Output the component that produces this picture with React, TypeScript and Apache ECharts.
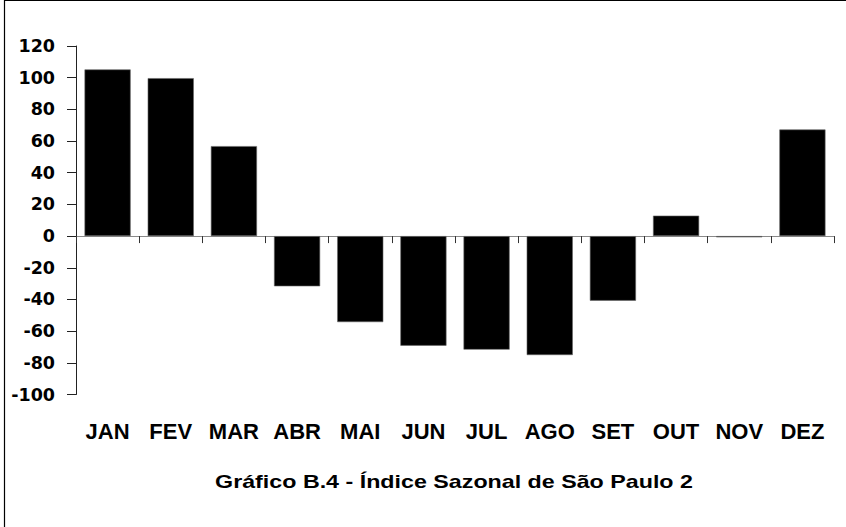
import React, { useEffect, useRef } from "react";
import * as echarts from "echarts";

const categories = ["JAN", "FEV", "MAR", "ABR", "MAI", "JUN", "JUL", "AGO", "SET", "OUT", "NOV", "DEZ"];
const values = [105.2, 99.7, 56.8, -31.7, -54.3, -69.2, -71.7, -75.1, -40.8, 12.9, -0.8, 67.3];
const yMin = -100;
const yMax = 120;
const yStep = 20;
const titleText = "Gráfico B.4 - Índice Sazonal de São Paulo 2";

export default function App() {
  const ref = useRef<HTMLDivElement>(null);
  useEffect(() => {
    if (!ref.current) return;
    const chart = echarts.init(ref.current, null, { renderer: "svg" });
    chart.setOption({
      animation: false,
      backgroundColor: "#ffffff",
      grid: { left: 76, right: 12, top: 46, bottom: 132.5, containLabel: false },
      xAxis: [
        {
          type: "category",
          data: categories,
          position: "bottom",
          axisLine: { onZero: true, show: true, lineStyle: { color: "#8a8a8a", width: 1 } },
          axisTick: { show: true, length: 7, lineStyle: { color: "#333", width: 1 } },
          axisLabel: { show: false },
          splitLine: { show: false },
        },
        {
          type: "category",
          data: categories,
          position: "bottom",
          offset: 0,
          axisLine: { show: false, onZero: false },
          axisTick: { show: false },
          axisLabel: {
            show: true,
            margin: 36.5,
            verticalAlign: "middle",
            color: "#000",
            fontFamily: "Liberation Sans",
            fontWeight: "bold",
            fontSize: 22,
            interval: 0,
          },
          splitLine: { show: false },
        },
      ],
      yAxis: {
        type: "value",
        min: yMin,
        max: yMax,
        interval: yStep,
        axisLine: { show: true, lineStyle: { color: "#222", width: 1 } },
        axisTick: { show: true, length: 9, lineStyle: { color: "#222", width: 1 } },
        axisLabel: {
          margin: 21,
          color: "#000",
          fontFamily: "DejaVu Sans",
          fontWeight: "bold",
          fontSize: 17.5,
        },
        splitLine: { show: false },
      },
      series: [
        {
          type: "bar",
          data: values,
          xAxisIndex: 0,
          barCategoryGap: "27%",
          itemStyle: { color: "#000", borderColor: "#666", borderWidth: 0.6 },
        },
      ],
      graphic: [
        {
          type: "rect",
          shape: { x: 4.5, y: 0.5, width: 900, height: 600 },
          style: { fill: "none", stroke: "#000", lineWidth: 1.2 },
          silent: true,
          z: 100,
        },
        {
          type: "text",
          x: 454,
          y: 481,
          scaleX: 1.25,
          style: {
            text: titleText,
            fill: "#000",
            font: "bold 18.6px 'Liberation Sans'",
            textAlign: "center",
            textVerticalAlign: "middle",
          },
        },
      ],
    });
    return () => chart.dispose();
  }, []);
  return (
    <div
      ref={ref}
      style={{ position: "fixed", left: 0, top: 0, width: 846, height: 527 }}
    />
  );
}
